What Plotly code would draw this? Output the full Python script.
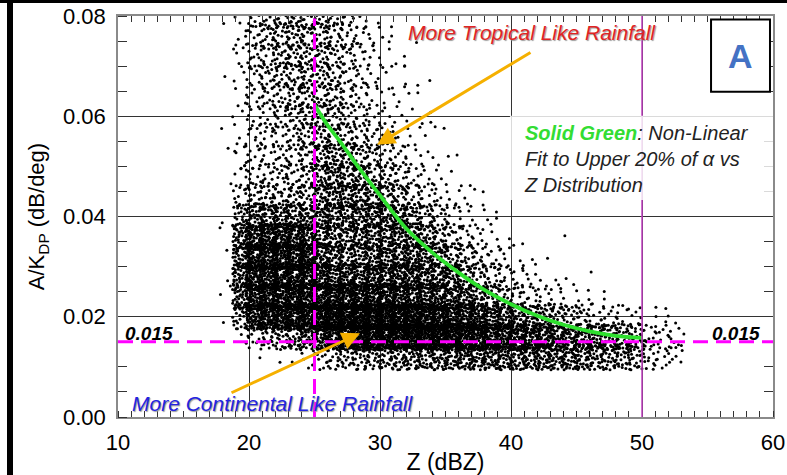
import plotly.graph_objects as go

# ---------------- data ----------------
# scatter cloud as a density table: lower edges of the Z bins (1 dBZ wide)
z_bin_lo = [18, 19, 20, 21, 22, 23, 24, 25, 26, 27, 28, 29, 30, 31, 32, 33, 34,
            35, 36, 37, 38, 39, 40, 41, 42, 43, 44, 45, 46, 47, 48, 49, 50, 51, 52]
z_bin_width = 1.0
# lower edges of the A/KDP bins (0.004 dB/deg wide)
a_bin_lo = [0.010, 0.014, 0.018, 0.022, 0.026, 0.030, 0.034, 0.038, 0.042,
            0.046, 0.050, 0.054, 0.058, 0.062, 0.066, 0.070, 0.074, 0.078]
a_bin_width = 0.004

# estimated number of points per cell, one list per A bin, columns follow z_bin_lo
n_a010 = [0, 0, 0, 1, 2, 3, 5, 12, 18, 22, 25, 28, 30, 32, 35, 38, 40, 42, 45, 45, 45, 45, 45, 45, 45, 42, 40, 38, 35, 32, 30, 28, 12, 8, 8]
n_a014 = [0, 5, 12, 18, 25, 35, 45, 65, 80, 92, 100, 105, 108, 110, 110, 108, 105, 100, 95, 90, 82, 75, 70, 65, 60, 55, 50, 45, 40, 35, 30, 25, 12, 10, 8]
n_a018 = [2, 30, 72, 82, 85, 90, 92, 100, 105, 105, 108, 108, 105, 102, 98, 92, 86, 80, 72, 65, 55, 50, 40, 35, 30, 25, 20, 16, 12, 10, 7, 5, 3, 3, 2]
n_a022 = [2, 50, 78, 78, 78, 78, 78, 78, 78, 78, 82, 78, 72, 66, 62, 60, 55, 50, 45, 38, 30, 22, 14, 11, 8, 6, 4, 3, 2, 1, 1]
n_a026 = [2, 55, 76, 76, 76, 76, 76, 65, 55, 55, 55, 55, 55, 55, 55, 50, 45, 40, 32, 24, 16, 10, 6, 4, 3, 2, 1, 1]
n_a030 = [2, 55, 75, 75, 75, 75, 75, 50, 40, 35, 38, 40, 45, 45, 45, 42, 38, 28, 20, 13, 8, 5, 3, 2, 1]
n_a034 = [2, 50, 72, 72, 72, 65, 60, 45, 38, 35, 38, 40, 42, 45, 40, 32, 25, 16, 10, 6, 4, 2, 1, 0, 0, 1]
n_a038 = [1, 28, 40, 42, 40, 38, 38, 42, 40, 40, 42, 42, 40, 38, 30, 22, 14, 9, 5, 3, 2, 1]
n_a042 = [1, 14, 18, 18, 20, 21, 23, 36, 38, 38, 36, 33, 29, 24, 16, 11, 7, 4, 3, 2, 1]
n_a046 = [0, 9, 10, 11, 13, 15, 17, 32, 34, 32, 28, 24, 19, 14, 9, 5, 3, 2, 1]
n_a050 = [1, 7, 9, 9, 11, 13, 17, 28, 29, 26, 22, 17, 13, 9, 5, 3, 2, 1]
n_a054 = [0, 5, 8, 9, 11, 14, 18, 24, 22, 18, 15, 12, 8, 5, 3, 2, 1]
n_a058 = [1, 4, 8, 10, 13, 16, 20, 22, 19, 15, 10, 7, 5, 3, 2, 1, 1]
n_a062 = [0, 4, 10, 12, 15, 18, 22, 22, 18, 12, 8, 5, 3, 2, 2, 1]
n_a066 = [1, 4, 11, 14, 17, 20, 22, 22, 17, 12, 8, 5, 3, 2, 1, 1]
n_a070 = [0, 5, 12, 15, 19, 22, 22, 22, 17, 12, 8, 5, 3, 1, 1]
n_a074 = [1, 5, 12, 16, 20, 22, 22, 22, 17, 12, 8, 5, 3, 1, 1]
n_a078 = [0, 5, 12, 16, 20, 22, 22, 20, 16, 11, 7, 4, 2, 1]
count_rows = [n_a010, n_a014, n_a018, n_a022, n_a026, n_a030, n_a034, n_a038, n_a042,
              n_a046, n_a050, n_a054, n_a058, n_a062, n_a066, n_a070, n_a074, n_a078]

# green non-linear fit curve
fit_z = [25, 26, 27, 28, 29, 30, 32, 34, 36, 38, 40, 42, 44, 46, 48, 50]
fit_a = [0.0623, 0.0582, 0.0548, 0.0511, 0.0476, 0.0442, 0.0376, 0.0328, 0.0288,
         0.0253, 0.0225, 0.0202, 0.0184, 0.0171, 0.0162, 0.0158]

# reference lines
ref_a = 0.015
ref_z_split = 25
ref_z_max = 50

x_tick_vals = [10, 20, 30, 40, 50, 60]
y_tick_vals = [0.00, 0.02, 0.04, 0.06, 0.08]
y_tick_text = ["0.00", "0.02", "0.04", "0.06", "0.08"]


# ---------------- place the points of each cell ----------------
def halton(i, b):
    f, r = 1.0, 0.0
    while i > 0:
        f /= b
        r += f * (i % b)
        i //= b
    return r


Z_PAD, A_PAD = 0.25, 0.0006
pts_z, pts_a = [], []
for r, row in enumerate(count_rows):
    for c, n in enumerate(row):
        start = (c * 37 + r * 101) % 997 + 1
        for k in range(n):
            u = halton(start + k, 2)
            v = halton(start + k, 3)
            pts_z.append(z_bin_lo[c] - Z_PAD + u * (z_bin_width + 2 * Z_PAD))
            pts_a.append(a_bin_lo[r] - A_PAD + v * (a_bin_width + 2 * A_PAD))

FONT = "Arial, 'Liberation Sans', sans-serif"

fig = go.Figure()
fig.add_trace(go.Scatter(x=pts_z, y=pts_a, mode="markers",
                         marker=dict(size=3, color="black", line=dict(width=0)),
                         hoverinfo="skip", showlegend=False))
fig.add_trace(go.Scatter(x=fit_z, y=fit_a, mode="lines",
                         line=dict(color="#2ee02e", width=3.8, shape="spline"),
                         hoverinfo="skip", showlegend=False))
# dummy trace for the mirrored tick axes
fig.add_trace(go.Scatter(x=[None], y=[None], xaxis="x2", yaxis="y2",
                         showlegend=False, hoverinfo="skip"))

W, H = 787, 475
L, R, T, B = 118, 14, 16, 58
pw, ph = W - L - R, H - T - B

shapes = [
    dict(type="line", xref="x", yref="y", x0=ref_z_max, x1=ref_z_max, y0=0, y1=0.08,
         line=dict(color="#c040c0", width=1.5), layer="above"),
    dict(type="rect", xref="x", yref="y", x0=39.92, x1=60, y0=0.0433, y1=0.0601,
         fillcolor="rgba(255,255,255,0.82)", line=dict(width=0), layer="above"),
    dict(type="line", xref="x", yref="y", x0=ref_z_split, x1=ref_z_split, y0=0, y1=0.0795,
         line=dict(color="#ff00ff", width=3, dash="15px,8px"), layer="above"),
    dict(type="line", xref="x", yref="y", x0=10, x1=60, y0=ref_a, y1=ref_a,
         line=dict(color="#ff00ff", width=3, dash="15px,8px"), layer="above"),
    dict(type="rect", xref="x", yref="y", x0=55.27, x1=59.77, y0=0.0649, y1=0.0793,
         fillcolor="white", line=dict(color="black", width=2), layer="above"),
    # black frame pieces of the picture (left bar and top bar)
    dict(type="rect", xref="paper", yref="paper",
         x0=(7 - L) / pw, x1=(13 - L) / pw, y0=-B / ph, y1=1 + T / ph,
         fillcolor="black", line=dict(width=0), layer="above"),
    dict(type="rect", xref="paper", yref="paper", ysizemode="pixel", yanchor=1,
         x0=-L / pw, x1=(W - L) / pw, y0=T - 3, y1=T + 1,
         fillcolor="black", line=dict(width=0), layer="above"),
]

shadow = "1px 1px 1px #9a9a9a"
annotations = [
    dict(x=29.77, y=0.0543, ax=41.6, ay=0.0729, xref="x", yref="y", axref="x", ayref="y",
         text="", showarrow=True, arrowhead=2, arrowsize=1.2, arrowwidth=3, arrowcolor="#f5b000"),
    dict(x=28.47, y=0.0167, ax=18.55, ay=0.0047, xref="x", yref="y", axref="x", ayref="y",
         text="", showarrow=True, arrowhead=2, arrowsize=1.2, arrowwidth=3, arrowcolor="#f5b000"),
    dict(x=41.6, y=0.0767, xref="x", yref="y", showarrow=False,
         text="<i>More Tropical Like Rainfall</i>",
         font=dict(family=FONT, size=21, color="#e02424", shadow=shadow)),
    dict(x=10.92, y=0.00274, xref="x", yref="y", xanchor="left", showarrow=False,
         text="<i>More Continental Like Rainfall</i>",
         font=dict(family=FONT, size=21, color="#2323e0", shadow=shadow)),
    dict(x=10.38, y=0.0166, xref="x", yref="y", xanchor="left", showarrow=False,
         text="<b><i>0.015</i></b>", font=dict(family=FONT, size=19, color="black")),
    dict(x=55.19, y=0.0166, xref="x", yref="y", xanchor="left", showarrow=False,
         text="<b><i>0.015</i></b>", font=dict(family=FONT, size=19, color="black")),
    dict(x=40.84, y=0.0515, xref="x", yref="y", xanchor="left", yanchor="middle",
         align="left", showarrow=False,
         text="<b><i><span style='color:#33dd33'>Solid Green</span></i></b><i>: Non-Linear<br>"
              "Fit to Upper 20% of α vs<br>Z Distribution</i>",
         font=dict(family=FONT, size=20, color="#222222")),
    dict(x=57.52, y=0.0721, xref="x", yref="y", showarrow=False,
         text="<b>A</b>", font=dict(family=FONT, size=34, color="#4472c4")),
]

fig.update_layout(
    width=W, height=H, margin=dict(l=L, r=R, t=T, b=B, autoexpand=False),
    paper_bgcolor="white", plot_bgcolor="white", showlegend=False,
    font=dict(family=FONT, color="black"),
    xaxis=dict(range=[10, 60], tickvals=x_tick_vals, ticks="", showgrid=True, automargin=False,
               gridcolor="#333333", gridwidth=1, zeroline=False,
               showline=True, linecolor="#8a8a8a", linewidth=1.5, mirror=True,
               tickfont=dict(size=22), ticklabelstandoff=5,
               minor=dict(dtick=1, ticks="inside", ticklen=6, tickcolor="#333", showgrid=False),
               title=dict(text="Z (dBZ)", font=dict(size=23), standoff=3)),
    yaxis=dict(range=[0, 0.08], tickvals=y_tick_vals, ticktext=y_tick_text, ticks="",
               showgrid=True, gridcolor="#333333", gridwidth=1, zeroline=False, automargin=False,
               showline=True, linecolor="#8a8a8a", linewidth=1.5, mirror=True,
               tickfont=dict(size=22), ticklabelstandoff=6,
               minor=dict(dtick=0.005, ticks="inside", ticklen=9, tickcolor="#333", showgrid=False),
               title=dict(text="A/K<sub>DP</sub> (dB/deg)", font=dict(size=22), standoff=12)),
    xaxis2=dict(range=[10, 60], overlaying="x", side="top", anchor="y2", showticklabels=False,
                showgrid=False, zeroline=False, dtick=1, tick0=10, ticks="inside", ticklen=6,
                tickcolor="#333", automargin=False),
    yaxis2=dict(range=[0, 0.08], overlaying="y", side="right", anchor="x2", showticklabels=False,
                showgrid=False, zeroline=False, dtick=0.005, tick0=0, ticks="inside", ticklen=9,
                tickcolor="#333", automargin=False),
    shapes=shapes, annotations=annotations,
)

fig.write_html("out.html")
